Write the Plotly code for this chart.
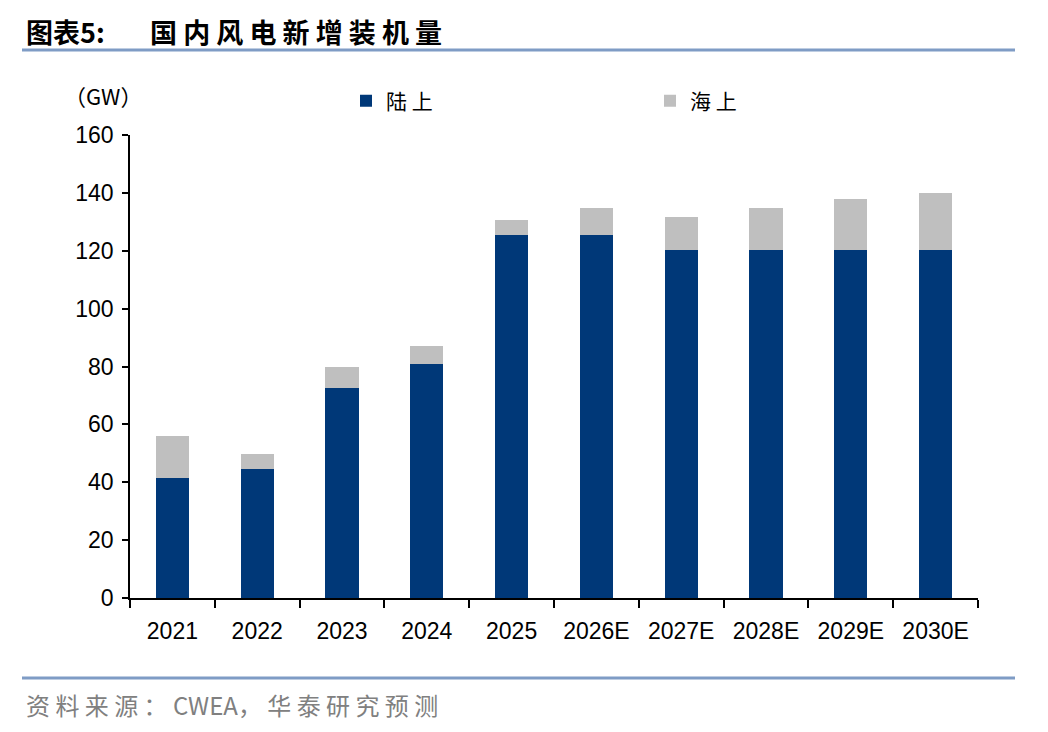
import plotly.graph_objects as go

categories = ["2021", "2022", "2023", "2024", "2025", "2026E", "2027E", "2028E", "2029E", "2030E"]
onshore = [41.5, 44.7, 72.6, 80.9, 125.5, 125.5, 120.3, 120.3, 120.3, 120.3]
offshore = [14.5, 5.1, 7.2, 6.2, 5.1, 9.3, 11.5, 14.5, 17.7, 19.7]
series_names = ["陆 上", "海 上"]

NAVY = "#003878"
GRAY = "#BFBFBF"
CJK = "Noto Sans CJK SC"
LAT = "Liberation Sans"

OFF = 8  # page body margin
W, H = 1048 - OFF, 732 - OFF
L, R, T, B = 130 - OFF, 978 - OFF, 135 - OFF, 598 - OFF
pw, ph = R - L, B - T

def px(x):
    return (x - OFF - L) / pw

def py(y):
    return (B - (y - OFF)) / ph

fig = go.Figure()
fig.add_trace(go.Bar(x=categories, y=onshore, name=series_names[0], marker=dict(color=NAVY, line=dict(width=0))))
fig.add_trace(go.Bar(x=categories, y=offshore, name=series_names[1], marker=dict(color=GRAY, line=dict(width=0))))

fig.update_layout(
    width=W, height=H,
    barmode="stack", bargap=0.61,
    plot_bgcolor="white", paper_bgcolor="white",
    margin=dict(l=L, r=W - R, t=T, b=H - B, pad=0),
    font=dict(family=LAT, size=20, color="black"),
    showlegend=True,
    legend=dict(orientation="h", x=px(346), y=py(101), xanchor="left", yanchor="middle",
                entrywidth=259, entrywidthmode="pixels", traceorder="normal",
                font=dict(family=CJK, size=21, color="black"), bgcolor="rgba(0,0,0,0)"),
    xaxis=dict(showline=True, linecolor="black", linewidth=1.5, ticks="outside", ticklen=8,
               tickcolor="black", tickwidth=1.5, tickson="boundaries", ticklabelstandoff=12,
               tickfont=dict(family=LAT, size=23, color="black"), showgrid=False),
    yaxis=dict(range=[0, 160], dtick=20, showline=True, linecolor="black", linewidth=1.5,
               ticks="outside", ticklen=6, tickcolor="black", tickwidth=1.5, showgrid=False,
               zeroline=False, ticklabelstandoff=4, tickfont=dict(family=LAT, size=23, color="black")),
)

shapes = [
    dict(type="line", xref="paper", yref="paper", x0=px(22), x1=px(1015), y0=py(50), y1=py(50),
         line=dict(color="#7F9CC5", width=3)),
    dict(type="line", xref="paper", yref="paper", x0=px(22), x1=px(1015), y0=py(678), y1=py(678),
         line=dict(color="#7F9CC5", width=3)),
]
fig.update_layout(shapes=shapes)

annotations = [
    dict(text="<b>图表5:</b>", x=px(24), y=py(32), xref="paper", yref="paper", xanchor="left", yanchor="middle",
         showarrow=False, font=dict(family=CJK, size=27, color="black")),
    dict(text="<b>国 内 风 电 新 增 装 机 量</b>", x=px(148), y=py(32), xref="paper", yref="paper", xanchor="left",
         yanchor="middle", showarrow=False, font=dict(family=CJK, size=27, color="black")),
    dict(text="（GW）", x=px(62), y=py(95), xref="paper", yref="paper", xanchor="left", yanchor="middle",
         showarrow=False, font=dict(family=CJK, size=22, color="black")),
    dict(text="资 料 来 源 ： CWEA， 华 泰 研 究 预 测", x=px(24), y=py(704), xref="paper", yref="paper",
         xanchor="left", yanchor="middle", showarrow=False, font=dict(family=CJK, size=24, color="#808080")),
]
fig.update_layout(annotations=annotations)

fig.write_html("out.html")
